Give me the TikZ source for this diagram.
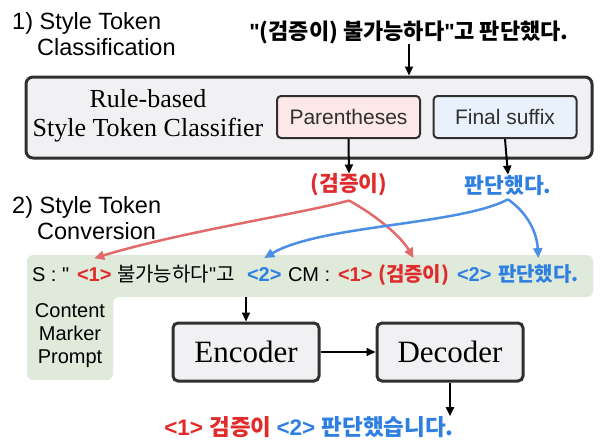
\documentclass[tikz,border=0pt]{standalone}
\usepackage{fontspec}
\setmainfont{Liberation Serif}
\setsansfont{Liberation Sans}
\newfontfamily\kr{Noto Sans CJK KR}
\newfontfamily\lsans{Liberation Sans}
\usetikzlibrary{arrows.meta}
\definecolor{tred}{HTML}{E02B2B}
\definecolor{tblue}{HTML}{2F7FE0}
\definecolor{ared}{HTML}{E26A6A}
\definecolor{ablue}{HTML}{4A8EE6}
\definecolor{gfill}{HTML}{DFEADB}
\definecolor{boxfill}{HTML}{F1F1F3}
\definecolor{dark}{HTML}{303030}
\definecolor{pfill}{HTML}{FCE9E7}
\definecolor{sfill}{HTML}{E9F2FC}
\newcommand{\dq}{{\lsans\char"22}}
\tikzset{
  sec/.style={font=\sffamily\fontsize{23.5}{26}\selectfont, align=left, inner sep=0pt, anchor=north west},
  ttl/.style={font=\kr\bfseries\fontsize{22}{26}\selectfont, inner sep=0pt},
  serifbig/.style={font=\rmfamily\fontsize{26}{29}\selectfont, align=center, inner sep=0pt},
  big/.style={draw=dark, line width=3pt, fill=boxfill, rounded corners=7pt, minimum width=566pt, minimum height=81pt, inner sep=0pt},
  rule/.style={draw=dark, line width=2pt, rounded corners=4pt, minimum width=143pt, minimum height=42pt, inner sep=0pt, font=\sffamily\fontsize{21}{25}\selectfont, text=dark},
  model/.style={draw=dark, line width=3pt, rounded corners=5pt, fill=boxfill, minimum width=146pt, minimum height=58pt, inner sep=0pt, font=\rmfamily\fontsize{31}{34}\selectfont},
  tok/.style={font=\kr\bfseries\fontsize{21.5}{24}\selectfont, inner sep=0pt},
  sl/.style={font=\sffamily\fontsize{20}{24}\selectfont, inner sep=0pt, outer sep=0pt, anchor=base west},
  slb/.style={sl, font=\sffamily\bfseries\fontsize{20}{24}\selectfont},
  slk/.style={sl, font=\kr\bfseries\fontsize{20}{24}\selectfont},
  cmp/.style={font=\sffamily\fontsize{20}{23}\selectfont, align=center, inner sep=0pt},
  arr/.style={line width=2pt, -{Triangle[length=9pt,width=8pt]}},
  carr/.style={line width=2.5pt, -{Triangle[length=10pt,width=9pt]}},
}
\begin{document}
\begin{tikzpicture}[x=1pt,y=-1pt]
\useasboundingbox (0,0) rectangle (600,442);
% stage labels
\node[sec] (sec1) at (12,12) {1) Style Token\\\hspace*{25pt}Classification};
\node[sec] (sec2) at (12,196) {2) Style Token\\\hspace*{25pt}Conversion};
% input sentence
\node[ttl] (title) at (409,32) {\dq(검증이) 불가능하다\dq 고 판단했다.};
% classifier
\node[big] (cls) at (309,117.5) {};
\node[serifbig] (rb) at (148,116) {Rule-based\\Style Token Classifier};
\node[rule, fill=pfill] (par) at (348.5,117) {Parentheses};
\node[rule, fill=sfill] (suf) at (505,117) {Final suffix};
\draw[arr] (title.south) -- (title.south |- cls.north);
% tokens
\node[tok, text=tred] (rtok) at (349,185) {(검증이)};
\node[tok, text=tblue] (btok) at (508,185) {판단했다.};
\draw[arr] (par.south) -- (rtok.north);
\draw[arr] (suf.south) -- (btok.north);
% green prompt area
\fill[gfill, rounded corners=6pt] (27,255) -- (593,255) -- (593,297) -- (113,297) -- (113,380) -- (27,380) -- cycle;
\node[cmp] (cm) at (70,336) {Content\\Marker\\Prompt};
% S line
\node[sl] (p1) at (32,281) {S : \dq};
\node[slb, text=tred] (p2) at (77,281) {<1>};
\node[sl] (p3) at (117,281) {{\kr 불가능하다}\dq{\kr 고}};
\node[slb, text=tblue] (p4) at (247,281) {<2>};
\node[sl] (p5) at (288,281) {CM :};
\node[slb, text=tred] (p6) at (338,281) {<1>};
\node[slk, text=tred] (p7) at (378,281) {(검증이)};
\node[slb, text=tblue] (p8) at (457,281) {<2>};
\node[slk, text=tblue] (p9) at (498,281) {판단했다.};
% curved arrows
\coordinate (rs) at ([yshift=-4pt]rtok.south);
\coordinate (bs) at ([yshift=-4pt]btok.south);
\coordinate (t1) at ([yshift=9pt]p2.north);
\coordinate (t2) at ([yshift=9pt]p4.north);
\coordinate (t3) at ([yshift=6pt]p7.north);
\coordinate (t4) at ([yshift=6pt]p9.north);
\draw[carr, ared] (rs) .. controls (300,214) and (180,232) .. (t1);
\draw[carr, ared] (rs) .. controls (375,215) and (400,235) .. (t3);
\draw[carr, ablue] (bs) .. controls (460,225) and (320,225) .. (t2);
\draw[carr, ablue] (bs) .. controls (530,215) and (537,235) .. (t4);
% model
\node[model] (enc) at (246,352) {Encoder};
\node[model] (dec) at (450,352) {Decoder};
\coordinate (gb) at (246,297);
\draw[arr] (gb) -- (enc.north);
\draw[arr] (enc.east) -- (dec.west);
% output
\node[tok, font=\kr\bfseries\fontsize{22.5}{26}\selectfont] (out) at (309,427) {\textcolor{tred}{\sffamily<1>~\kr 검증이}~\textcolor{tblue}{\sffamily<2>~\kr 판단했습니다.}};
\draw[arr] (dec.south) -- (dec.south |- out.north);
\end{tikzpicture}
\end{document}
